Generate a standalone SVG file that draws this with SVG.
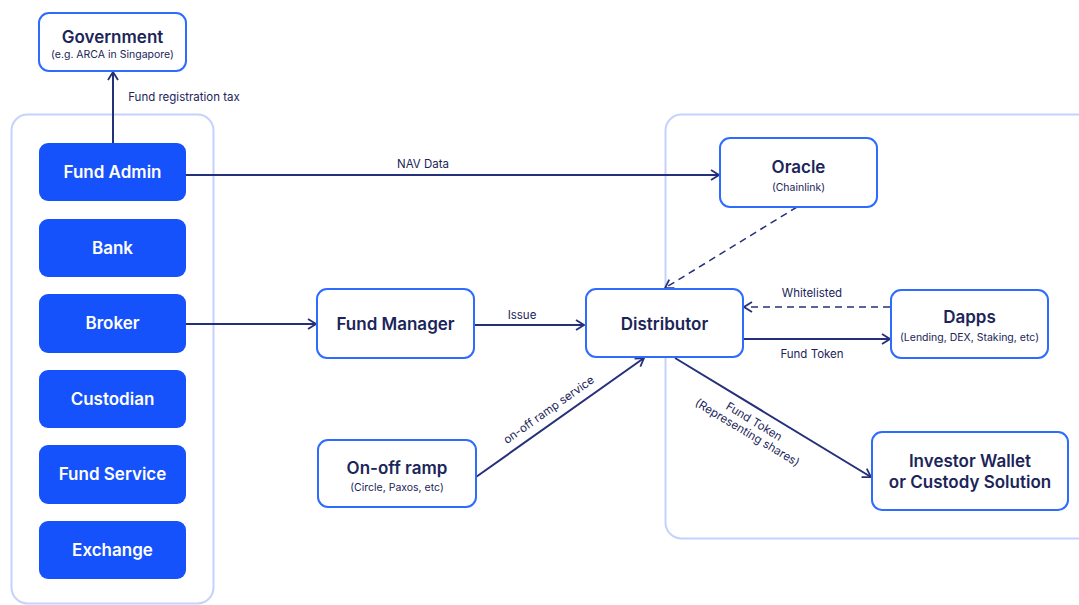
<svg xmlns="http://www.w3.org/2000/svg" width="1079" height="605" viewBox="0 0 1079 605">
<defs>
<style>
.cont{fill:none;stroke:#c5d2fb;stroke-width:2}
.solid{fill:#1652fb;stroke:none}
.wn{fill:#fff;stroke:#2e6bff;stroke-width:2}
.wt{font-family:Inter,"Liberation Sans",sans-serif;font-size:17px;font-weight:600;fill:#fff;text-anchor:middle}
.t{font-family:Inter,"Liberation Sans",sans-serif;font-size:17px;font-weight:600;fill:#1b2559;text-anchor:middle}
.s{font-family:Inter,"Liberation Sans",sans-serif;font-size:10.5px;fill:#1b2559;text-anchor:middle}
.l{font-family:Inter,"Liberation Sans",sans-serif;font-size:11.5px;fill:#1b2559;text-anchor:middle}
.c{fill:none;stroke:#25307a;stroke-width:2}
.d{fill:none;stroke:#25307a;stroke-width:1.5;stroke-dasharray:7 5}
</style>
<marker id="ah" viewBox="0 0 10 12" refX="9" refY="6" markerWidth="10" markerHeight="12" markerUnits="userSpaceOnUse" orient="auto">
<path d="M1,1 L9,6 L1,11" fill="none" stroke="#25307a" stroke-width="1.8"/>
</marker>
</defs>
<rect width="1079" height="605" fill="#fff"/>
<g id="containers">
<rect class="cont" x="11.5" y="114.5" width="202" height="489" rx="16"/>
<rect class="cont" x="665.5" y="114.5" width="440" height="424" rx="16"/>
</g>
<g id="connectors">
<line class="c" x1="113" y1="143" x2="113" y2="72" marker-end="url(#ah)"/>
<text class="l" x="184" y="101">Fund registration tax</text>
<line class="c" x1="186" y1="175" x2="719" y2="175" marker-end="url(#ah)"/>
<text class="l" x="423" y="168">NAV Data</text>
<line class="c" x1="186" y1="324" x2="316" y2="324" marker-end="url(#ah)"/>
<line class="c" x1="474" y1="325" x2="584" y2="325" marker-end="url(#ah)"/>
<text class="l" x="522" y="319">Issue</text>
<line class="d" x1="797" y1="207" x2="665" y2="288" marker-end="url(#ah)"/>
<line class="d" x1="890" y1="307" x2="744" y2="307" marker-end="url(#ah)"/>
<text class="l" x="812" y="297">Whitelisted</text>
<line class="c" x1="743" y1="339" x2="890" y2="339" marker-end="url(#ah)"/>
<text class="l" x="812" y="358">Fund Token</text>
<line class="c" x1="476" y1="477" x2="644" y2="358" marker-end="url(#ah)"/>
<text class="l" transform="translate(551,413) rotate(-35.4)">on-off ramp service</text>
<line class="c" x1="675" y1="358" x2="871" y2="477" marker-end="url(#ah)"/>
<text class="l" transform="translate(749,430) rotate(31)"><tspan x="0" y="-6">Fund Token</tspan><tspan x="0" y="7">(Representing shares)</tspan></text>
</g>
<g id="government">
<rect class="wn" x="39" y="13" width="147" height="58" rx="10"/>
<text class="t" x="112.5" y="43">Government</text>
<text class="s" x="112.5" y="58">(e.g. ARCA in Singapore)</text>
</g>
<g id="fund-admin">
<rect class="solid" x="39" y="143" width="147" height="58" rx="9"/>
<text class="wt" x="112.5" y="178">Fund Admin</text>
</g>
<g id="bank">
<rect class="solid" x="39" y="219" width="147" height="58" rx="9"/>
<text class="wt" x="112.5" y="254">Bank</text>
</g>
<g id="broker">
<rect class="solid" x="39" y="294" width="147" height="59" rx="9"/>
<text class="wt" x="112.5" y="329">Broker</text>
</g>
<g id="custodian">
<rect class="solid" x="39" y="370" width="147" height="58" rx="9"/>
<text class="wt" x="112.5" y="405">Custodian</text>
</g>
<g id="fund-service">
<rect class="solid" x="39" y="445" width="147" height="59" rx="9"/>
<text class="wt" x="112.5" y="480">Fund Service</text>
</g>
<g id="exchange">
<rect class="solid" x="39" y="521" width="147" height="58" rx="9"/>
<text class="wt" x="112.5" y="556">Exchange</text>
</g>
<g id="oracle">
<rect class="wn" x="720" y="138" width="157" height="69" rx="10"/>
<text class="t" x="798.5" y="173">Oracle</text>
<text class="s" x="798.5" y="191">(Chainlink)</text>
</g>
<g id="fund-manager">
<rect class="wn" x="317" y="289" width="157" height="69" rx="10"/>
<text class="t" x="395.5" y="330">Fund Manager</text>
</g>
<g id="distributor">
<rect class="wn" x="586" y="289" width="157" height="68" rx="10"/>
<text class="t" x="664.5" y="330">Distributor</text>
</g>
<g id="dapps">
<rect class="wn" x="891" y="290" width="157" height="68" rx="10"/>
<text class="t" x="969.5" y="323">Dapps</text>
<text class="s" x="969.5" y="341">(Lending, DEX, Staking, etc)</text>
</g>
<g id="on-off-ramp">
<rect class="wn" x="318" y="440" width="158" height="67" rx="10"/>
<text class="t" x="397" y="474">On-off ramp</text>
<text class="s" x="397" y="491">(Circle, Paxos, etc)</text>
</g>
<g id="investor-wallet">
<rect class="wn" x="872" y="432" width="196" height="78" rx="10"/>
<text class="t" x="970" y="467">Investor Wallet</text>
<text class="t" x="970" y="488">or Custody Solution</text>
</g>
</svg>
